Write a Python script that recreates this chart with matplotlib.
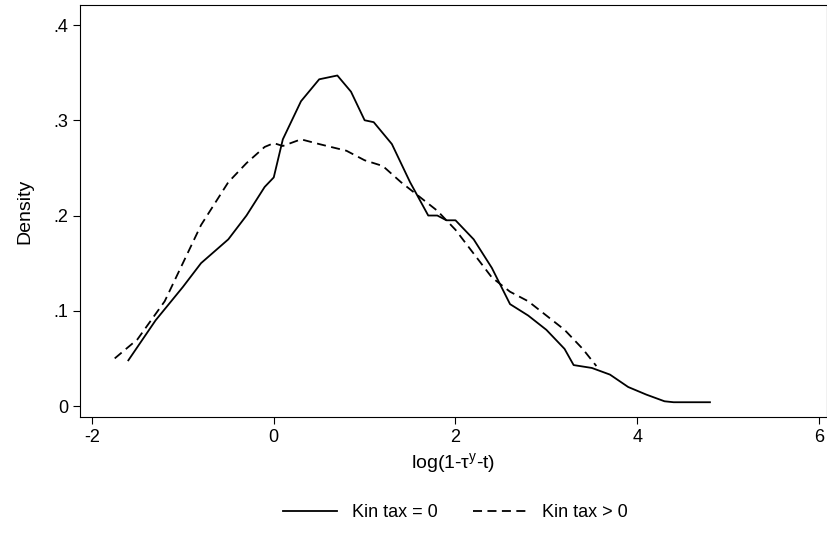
import matplotlib

matplotlib.use("Agg")
import matplotlib.pyplot as plt

plt.rcParams["font.family"] = ["Liberation Sans", "DejaVu Sans"]

# Kin tax = 0 (solid)
x_zero = [-1.6, -1.3, -1.0, -0.8, -0.5, -0.3, -0.1, 0.0, 0.1, 0.3, 0.5, 0.7, 0.85, 1.0, 1.1, 1.3,
          1.5, 1.7, 1.8, 1.9, 2.0, 2.2, 2.4, 2.6, 2.8, 3.0, 3.2, 3.3, 3.5, 3.7, 3.9, 4.1, 4.3, 4.4, 4.8]
y_zero = [.048, .09, .125, .15, .175, .2, .23, .24, .28, .32, .343, .347, .33, .30, .298, .275,
          .235, .20, .20, .195, .195, .175, .145, .107, .095, .08, .06, .043, .04, .033, .02, .012,
          .005, .004, .004]
# Kin tax > 0 (dashed)
x_pos = [-1.75, -1.5, -1.2, -1.0, -0.8, -0.5, -0.3, -0.1, 0.0, 0.1, 0.3, 0.5, 0.8, 1.0, 1.2, 1.4,
         1.6, 1.8, 2.0, 2.2, 2.4, 2.6, 2.8, 3.0, 3.2, 3.4, 3.55]
y_pos = [.05, .07, .11, .15, .19, .235, .255, .272, .276, .273, .28, .275, .268, .258, .252, .235,
         .22, .205, .185, .16, .135, .12, .11, .095, .08, .06, .042]

fig = plt.figure(figsize=(8.28, 5.35), dpi=100)
ax = fig.add_axes([80 / 828, 118 / 535, 747 / 828, 412 / 535])
ax.plot(x_zero, y_zero, color="black", lw=1.3, label="Kin tax = 0")
ax.plot(x_pos, y_pos, color="black", lw=1.3, ls=(0, (5, 3)), label="Kin tax > 0")
ax.set_xlim(-2.132, 6.088)
ax.set_ylim(-0.0115, 0.421)
ax.set_xticks([-2, 0, 2, 4, 6])
ax.set_xticklabels(["-2", "0", "2", "4", "6"])
ax.set_yticks([0, .1, .2, .3, .4])
ax.set_yticklabels(["0", ".1", ".2", ".3", ".4"])
ax.tick_params(labelsize=13, length=5)
ax.set_xlabel(r"log(1-$\mathregular{\tau^y}$-t)", fontsize=14, labelpad=4)
ax.set_ylabel("Density", fontsize=14, labelpad=14)
fig.legend(loc="lower center", bbox_to_anchor=(0.55, -0.005), ncol=2, frameon=False, fontsize=13,
           handlelength=3, columnspacing=2)
fig.savefig("out.png", dpi=100)
